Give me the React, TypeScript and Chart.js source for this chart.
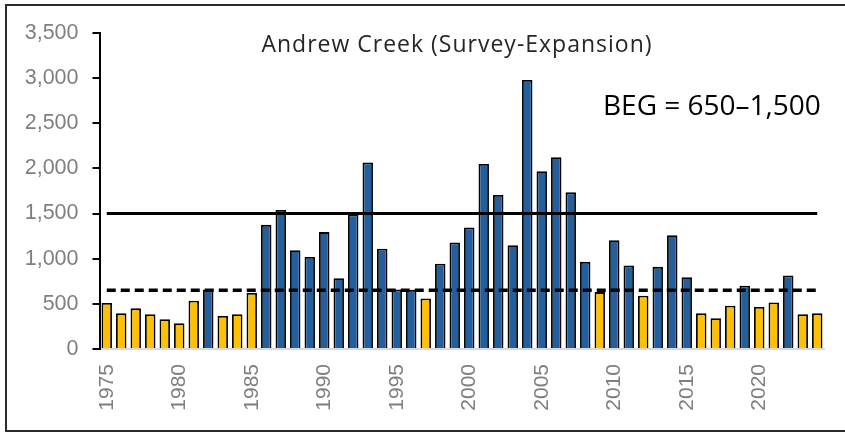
import React, { useEffect, useRef } from "react";
import { Chart, registerables } from "chart.js";

Chart.register(...registerables);

const years: string[] = [
  "1975","1976","1977","1978","1979","1980","1981","1982","1983","1984",
  "1985","1986","1987","1988","1989","1990","1991","1992","1993","1994",
  "1995","1996","1997","1998","1999","2000","2001","2002","2003","2004",
  "2005","2006","2007","2008","2009","2010","2011","2012","2013","2014",
  "2015","2016","2017","2018","2019","2020","2021","2022","2023","2024",
];

const escapement: number[] = [
  510, 395, 450, 385, 330, 285, 535, 660, 365, 385,
  620, 1375, 1540, 1095, 1020, 1295, 785, 1490, 2065, 1110,
  660, 655, 560, 945, 1180, 1345, 2050, 1705, 1150, 2980,
  1970, 2125, 1735, 965, 630, 1205, 925, 590, 910, 1260,
  795, 395, 340, 480, 700, 465, 515, 815, 385, 395,
];

const begLower = 650;
const begUpper = 1500;
const titleText = "Andrew Creek (Survey-Expansion)";
const begText = "BEG = 650\u20131,500";
const yTicksMax = 3500;
const yTickStep = 500;

const BLUE = "#235F9C";
const YELLOW = "#FFC000";

export default function App() {
  const ref = useRef<HTMLCanvasElement | null>(null);

  useEffect(() => {
    if (!ref.current) return;
    const overlay = {
      id: "overlay",
      afterDraw(chart: any) {
        const ctx = chart.ctx;
        ctx.save();
        ctx.strokeStyle = "#2b2b2b";
        ctx.lineWidth = 2;
        ctx.strokeRect(6, 5, 845, 426);
        ctx.fillStyle = "#262626";
        ctx.font = "23px 'Open Sans'";
        (ctx as any).letterSpacing = "1px";
        ctx.textAlign = "center";
        ctx.textBaseline = "alphabetic";
        ctx.fillText(titleText, 457, 52);
        (ctx as any).letterSpacing = "0px";
        ctx.fillStyle = "#000000";
        ctx.font = "28px 'Open Sans'";
        ctx.textAlign = "left";
        ctx.fillText(begText, 603, 115);
        ctx.restore();
      },
    };

    const chart = new Chart(ref.current, {
      type: "bar",
      data: {
        labels: years,
        datasets: [
          {
            type: "line",
            data: years.map(() => begUpper),
            borderColor: "#000000",
            borderWidth: 3,
            pointRadius: 0,
            fill: false,
            order: 1,
          } as any,
          {
            type: "line",
            data: years.map(() => begLower),
            borderColor: "#000000",
            borderWidth: 3.5,
            borderDash: [9, 5],
            pointRadius: 0,
            fill: false,
            order: 1,
          } as any,
          {
            type: "bar",
            data: escapement,
            backgroundColor: escapement.map((v) => (v < begLower ? YELLOW : BLUE)),
            borderColor: "#000000",
            borderWidth: 1.8,
            barPercentage: 0.72,
            categoryPercentage: 1,
            order: 2,
          } as any,
        ],
      },
      options: {
        responsive: false,
        animation: false,
        layout: { padding: { left: 0, right: 20.5, top: 33, bottom: 0 } },
        plugins: {
          legend: { display: false },
          title: { display: false },
          tooltip: { enabled: false },
        },
        scales: {
          x: {
            grid: { display: false, drawTicks: false },
            border: { display: true, color: "#d9d9d9", width: 2 },
            ticks: {
              autoSkip: false,
              maxRotation: 90,
              minRotation: 90,
              padding: 15,
              color: "#7f7f7f",
              font: { family: "'Liberation Sans'", size: 21 },
              callback: (_v: any, i: number) =>
                Number(years[i]) % 5 === 0 ? years[i] : "",
            },
            afterFit: (s: any) => {
              s.height = 84;
              s.paddingLeft = 0;
              s.paddingRight = 0;
            },
          },
          y: {
            min: 0,
            max: yTicksMax,
            grid: {
              drawOnChartArea: false,
              drawTicks: true,
              tickLength: 7,
              color: "#000000",
              lineWidth: 2,
            },
            border: { display: true, color: "#000000", width: 2 },
            ticks: {
              stepSize: yTickStep,
              padding: 14,
              color: "#7f7f7f",
              font: { family: "'Liberation Sans'", size: 21.5 },
              callback: (v: any) => Number(v).toLocaleString("en-US"),
            },
            afterFit: (s: any) => {
              s.width = 99.5;
              s.paddingTop = 0;
              s.paddingBottom = 0;
            },
          },
        },
      },
      plugins: [overlay],
    });
    return () => chart.destroy();
  }, []);

  return (
    <div style={{ position: "absolute", left: 0, top: 0, width: 845, height: 433, background: "#fff" }}>
      <canvas ref={ref} width={845} height={433} style={{ display: "block" }} />
    </div>
  );
}
